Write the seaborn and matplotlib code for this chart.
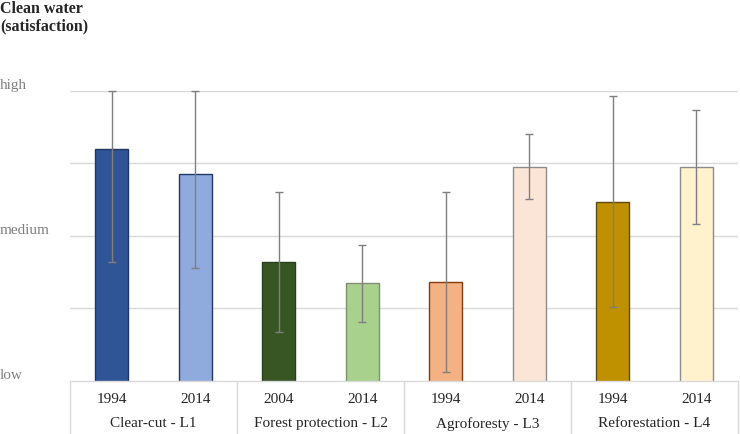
import matplotlib
matplotlib.use("Agg")
import matplotlib.pyplot as plt
import matplotlib.transforms as mtransforms
import numpy as np
import pandas as pd
import seaborn as sns

# values (scale: 1 = low, 3 = medium, 5 = high)
groups = ["Clear-cut - L1", "Forest protection - L2", "Agroforesty - L3", "Reforestation - L4"]
years = ["1994", "2014", "2004", "2014", "1994", "2014", "1994", "2014"]
means = [4.20, 3.85, 2.64, 2.35, 2.36, 3.95, 3.47, 3.95]
err_hi = [5.00, 5.00, 3.60, 2.87, 3.60, 4.40, 4.93, 4.73]
err_lo = [2.64, 2.56, 1.67, 1.81, 1.12, 3.51, 2.02, 3.16]
fills = ["#2F5597", "#8FAADC", "#375623", "#A9D18E", "#F4B183", "#FBE5D6", "#BF9000", "#FFF2CC"]
edges = ["#1F3864", "#203864", "#2A401A", "#7F8F70", "#843C0C", "#8C8C8C", "#5C4A10", "#8C8C8C"]
level_ticks = [5, 3, 1]
level_labels = ["high", "medium", "low"]

df = pd.DataFrame({"slot": [f"{i}" for i in range(len(means))], "value": means})

sns.set_style("white")
plt.rcParams["font.family"] = ["Liberation Serif", "DejaVu Serif"]

fig = plt.figure(figsize=(7.4, 4.35), dpi=100)
ax = fig.add_axes([70 / 740, 1 - 382 / 435, 668 / 740, (382 - 91.5) / 435])

sns.barplot(data=df, x="slot", y="value", hue="slot", palette=fills, legend=False,
            width=0.4, saturation=1, ax=ax, zorder=2)
for p, ec in zip(ax.patches, edges):
  p.set_edgecolor(ec)
  p.set_linewidth(1.0)

xs = np.arange(len(means))
m = np.array(means)
ax.errorbar(xs, m, yerr=[m - np.array(err_lo), np.array(err_hi) - m], fmt="none",
            ecolor="#7F7F7F", elinewidth=1.0, capsize=3, capthick=1.0, zorder=3, clip_on=False)

ax.set_ylim(1, 5)
ax.set_xlim(-0.5, len(means) - 0.5)
ax.set_yticks([2, 3, 4, 5])
ax.set_yticklabels([])
ax.set_xticks([])
ax.set_xlabel("")
ax.set_ylabel("")
ax.tick_params(left=False, bottom=False)
ax.grid(axis="y", color="#D9D9D9", linewidth=1.0, zorder=0)
ax.set_axisbelow(True)
for s in ["top", "right", "left"]:
  ax.spines[s].set_visible(False)
ax.spines["bottom"].set_color("#D9D9D9")
ax.spines["bottom"].set_linewidth(1.0)

# y level labels
tr_y = mtransforms.blended_transform_factory(fig.transFigure, ax.transData)
for v, lab in zip(level_ticks, level_labels):
  ax.text(0.0, v, lab, transform=tr_y, ha="left", va="bottom", fontsize=11, color="#7F7F7F")

# category axis: years, group names, separators
tr_x = mtransforms.blended_transform_factory(ax.transData, fig.transFigure)
for i, yr in enumerate(years):
  ax.text(i, 1 - 400 / 435, yr, transform=tr_x, ha="center", va="center", fontsize=11)
for g, name in enumerate(groups):
  ax.text(2 * g + 0.5, 1 - 424 / 435, name, transform=tr_x, ha="center", va="center", fontsize=11)
for b in np.arange(-0.5, len(means), 2):
  ax.plot([b, b], [1 - 382 / 435, 0], transform=tr_x, color="#D9D9D9", lw=1.0, clip_on=False)

fig.text(0.0, 1 - 1 / 435, "Clean water\n(satisfaction)", ha="left", va="top",
         fontsize=11.5, fontweight="bold", linespacing=1.15)

fig.savefig("out.png", dpi=100)
